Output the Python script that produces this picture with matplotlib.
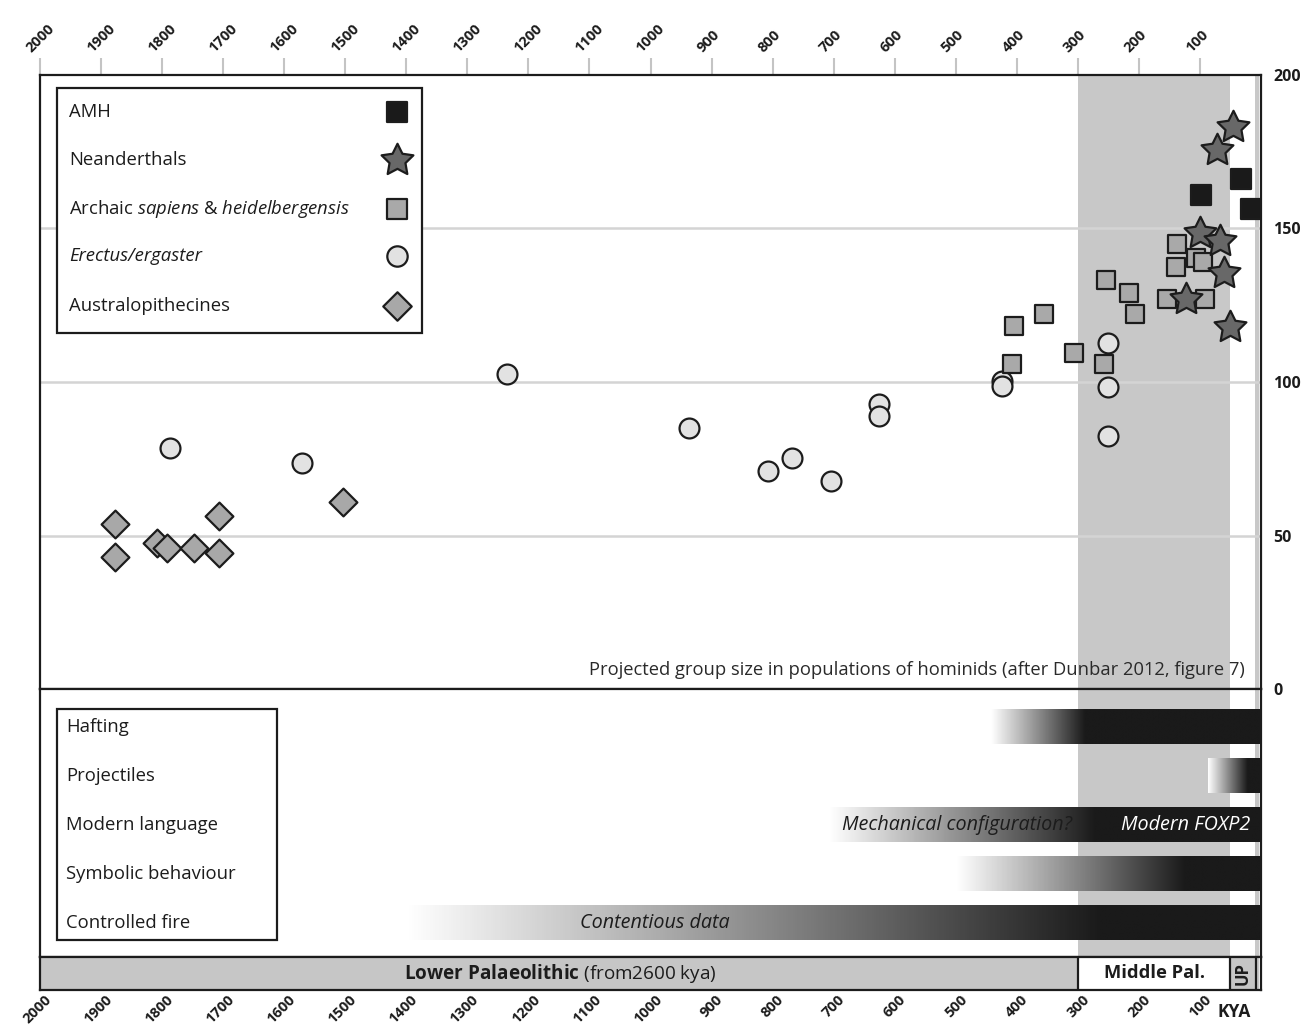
import matplotlib
matplotlib.use("Agg")
import matplotlib.pyplot as plt
import numpy as np
from matplotlib.colors import LinearSegmentedColormap
from matplotlib.patches import Rectangle
from matplotlib.path import Path
from matplotlib.transforms import ScaledTranslation, blended_transform_factory

plt.rcParams['font.family'] = ['Open Sans', 'DejaVu Sans']
plt.rcParams['mathtext.fontset'] = 'custom'
plt.rcParams['mathtext.rm'] = 'Open Sans'
plt.rcParams['mathtext.it'] = 'Open Sans:italic'
plt.rcParams['mathtext.bf'] = 'Open Sans:bold'

INK = '#1c1c1c'
SPAN = '#c8c8c8'

# --- dados: tamanho de grupo projetado (kya, tamanho) ---
amh_kya = [98, 33, 16]
amh_size = [161, 166, 156.5]

nean_kya = [46, 72, 100, 67, 61, 123, 51]
nean_size = [183, 175.5, 148.5, 146, 135.5, 127, 118]

archaic_kya = [405, 355, 306, 408, 257, 254, 216, 206, 154, 138, 139, 106, 95, 92]
archaic_size = [118.3, 122, 109.5, 106, 106, 133.3, 129, 122, 127, 145, 137.6, 140.5, 139.2, 127]

erectus_kya = [1787, 1571, 1235, 937, 808, 768, 704, 626, 626, 424, 424, 251, 251, 251]
erectus_size = [78.4, 73.5, 102.6, 85, 71, 75.2, 67.6, 92.8, 89, 100.3, 98.7, 112.7, 98.4, 82.4]

austral_kya = [1877, 1877, 1808, 1792, 1748, 1707, 1707, 1504]
austral_size = [53.6, 43.1, 47.7, 45.8, 45.8, 56.5, 44.4, 61]

legend_labels = ['AMH', 'Neanderthals', r'Archaic $\it{sapiens}$ & $\it{heidelbergensis}$',
                 'Erectus/ergaster', 'Australopithecines']

# --- comportamentos: início (branco) e ponto em que fica preto (kya) ---
behaviours = ['Hafting', 'Projectiles', 'Modern language', 'Symbolic behaviour', 'Controlled fire']
behav_start = [442, 87, 707, 500, 1400]
behav_black = [288, 23, 270, 125, 260]

# --- períodos ---
middle_pal = (300, 51)
upper_pal = (51, 8)
ticks_kya = list(range(2000, 0, -100))

fig = plt.figure(figsize=(13.01, 10.28), dpi=100)
W, H = 1301, 1028
L, AW = 40 / W, 1221 / W
ax_top = fig.add_axes([L, 1 - 689 / H, AW, 614 / H])
ax_mid = fig.add_axes([L, 1 - 957 / H, AW, 268 / H])
ax_band = fig.add_axes([L, 1 - 990 / H, AW, 33 / H])

for ax in (ax_top, ax_mid, ax_band):
    ax.set_xlim(2000, 0)
    for sp in ax.spines.values():
        sp.set_linewidth(1.6)
        sp.set_color(INK)

# ---------------- painel superior ----------------
ax_top.set_ylim(0, 200)
ax_top.axvspan(*middle_pal, color=SPAN, lw=0, zorder=0)
ax_top.axvspan(10, 3, color=SPAN, lw=0, zorder=0)
for v in (50, 100, 150):
    ax_top.axhline(v, color='#d4d4d4', lw=1.8, zorder=1)

ax_top.xaxis.tick_top()
ax_top.set_xticks(ticks_kya)
ax_top.set_xticklabels([str(t) for t in ticks_kya])
ax_top.tick_params(axis='x', direction='out', length=12.5, width=1.5, color='#c4c4c4',
                   pad=2, labelsize=10.5, labelcolor=INK)
for lab in ax_top.get_xticklabels():
    lab.set_rotation(45)
    lab.set_ha('left')
    lab.set_va('bottom')
    lab.set_rotation_mode('anchor')
    lab.set_fontweight('bold')
    lab.set_transform(lab.get_transform() + ScaledTranslation(-5 / 72, 0, fig.dpi_scale_trans))

ax_top.yaxis.tick_right()
ax_top.set_yticks([0, 50, 100, 150, 200])
ax_top.tick_params(axis='y', length=0, pad=9, labelsize=11.5, labelcolor=INK)
for lab in ax_top.get_yticklabels():
    lab.set_fontweight('bold')

star = Path.unit_regular_star(5, 0.5)
edge = dict(edgecolors=INK, linewidths=1.6, zorder=3)
ax_top.scatter(erectus_kya, erectus_size, marker='o', s=205, facecolors='#e2e2e2', **edge)
ax_top.scatter(austral_kya, austral_size, marker='D', s=200, facecolors='#a8a8a8', **edge)
ax_top.scatter(archaic_kya, archaic_size, marker='s', s=185, facecolors='#a9a9a9', **edge)
ax_top.scatter(nean_kya, nean_size, marker=star, s=580, facecolors='#686868', **edge)
ax_top.scatter(amh_kya, amh_size, marker='s', s=195, facecolors='#1a1a1a', **edge)

# legenda superior (manual)
ax_top.add_patch(Rectangle((0.0139, 0.5798), 0.299, 0.399, transform=ax_top.transAxes,
                           fill=True, facecolor='white', edgecolor=INK, lw=1.6, zorder=4))
leg_y = [0.9397, 0.8616, 0.7818, 0.7052, 0.6238]
leg_style = [dict(marker='s', s=210, facecolors='#1a1a1a'),
             dict(marker=star, s=580, facecolors='#686868'),
             dict(marker='s', s=210, facecolors='#a9a9a9'),
             dict(marker='o', s=215, facecolors='#e2e2e2'),
             dict(marker='D', s=210, facecolors='#a8a8a8')]
for y, lab, st in zip(leg_y, legend_labels, leg_style):
    style = 'italic' if lab.startswith('Erectus') else 'normal'
    ax_top.text(0.0238, y, lab, transform=ax_top.transAxes, fontsize=13.3, color=INK,
                va='center', ha='left', style=style, zorder=5)
    ax_top.scatter([0.2924], [y], transform=ax_top.transAxes, clip_on=False,
                   edgecolors=INK, linewidths=1.6, zorder=5, **st)

ax_top.text(26, 6.2, 'Projected group size in populations of hominids (after Dunbar 2012, figure 7)',
            ha='right', va='center', fontsize=13.2, color='#2a2a2a', zorder=5)

# ---------------- painel do meio (comportamentos) ----------------
ax_mid.set_ylim(4.694, -0.776)
ax_mid.set_xticks([])
ax_mid.set_yticks([])
ax_mid.axvspan(*middle_pal, color=SPAN, lw=0, zorder=0)
ax_mid.axvspan(10, 3, color=SPAN, lw=0, zorder=0)

grad_cmap = LinearSegmentedColormap.from_list('fade', ['#ffffff', '#1a1a1a'])
for i, (start, black) in enumerate(zip(behav_start, behav_black)):
    xs = np.linspace(start, 0, 400)
    vals = np.clip((start - xs) / (start - black), 0, 1)[None, :]
    ax_mid.imshow(vals, cmap=grad_cmap, vmin=0, vmax=1, aspect='auto', interpolation='bilinear',
                  extent=(start, 0, i + 0.347, i - 0.347), zorder=2)
ax_mid.set_xlim(2000, 0)
ax_mid.set_ylim(4.694, -0.776)

ax_mid.text(498, 2, 'Mechanical configuration?', ha='center', va='center', style='italic',
            fontsize=14.2, color=INK, zorder=3)
ax_mid.text(124, 2, 'Modern FOXP2', ha='center', va='center', style='italic',
            fontsize=14.2, color='white', zorder=3)
ax_mid.text(993, 4, 'Contentious data', ha='center', va='center', style='italic',
            fontsize=14.2, color=INK, zorder=3)

ax_mid.add_patch(Rectangle((0.0139, 0.0634), 0.1802, 0.862, transform=ax_mid.transAxes,
                           fill=False, edgecolor=INK, lw=1.6, zorder=4))
blend = blended_transform_factory(ax_mid.transAxes, ax_mid.transData)
for i, name in enumerate(behaviours):
    ax_mid.text(0.0215, i, name, transform=blend, ha='left', va='center', fontsize=13.3,
                color=INK, zorder=5)

# ---------------- faixa dos períodos ----------------
ax_band.set_ylim(0, 1)
ax_band.axvspan(2000, middle_pal[0], color='#c6c6c6', lw=0)
ax_band.axvspan(*upper_pal, color='#c6c6c6', lw=0)
ax_band.axvspan(upper_pal[1], 3, color='#c6c6c6', lw=0)
for x in (middle_pal[0], middle_pal[1], upper_pal[1]):
    ax_band.axvline(x, color=INK, lw=1.6)
ax_band.set_yticks([])
ax_band.set_xticks(ticks_kya)
ax_band.set_xticklabels([str(t) for t in ticks_kya])
ax_band.tick_params(axis='x', length=0, pad=2, labelsize=10.5, labelcolor=INK)
for lab in ax_band.get_xticklabels():
    lab.set_rotation(45)
    lab.set_ha('right')
    lab.set_va('top')
    lab.set_rotation_mode('anchor')
    lab.set_fontweight('bold')
    lab.set_transform(lab.get_transform() + ScaledTranslation(3 / 72, 0, fig.dpi_scale_trans))

ax_band.text(1148, 0.5, r'$\bf{Lower\ Palaeolithic}$ (from2600 kya)', ha='center', va='center',
             fontsize=13.6, color=INK)
ax_band.text(174, 0.5, 'Middle Pal.', ha='center', va='center', fontsize=13.2,
             fontweight='bold', color=INK)
ax_band.text(30, 0.5, 'UP', ha='center', va='center', rotation=90, fontsize=12,
             fontweight='bold', color=INK)
ax_band.text(44, -0.67, 'KYA', ha='center', va='center', fontsize=12.5,
             fontweight='bold', color=INK)

fig.savefig('out.png', dpi=100, facecolor='white')
